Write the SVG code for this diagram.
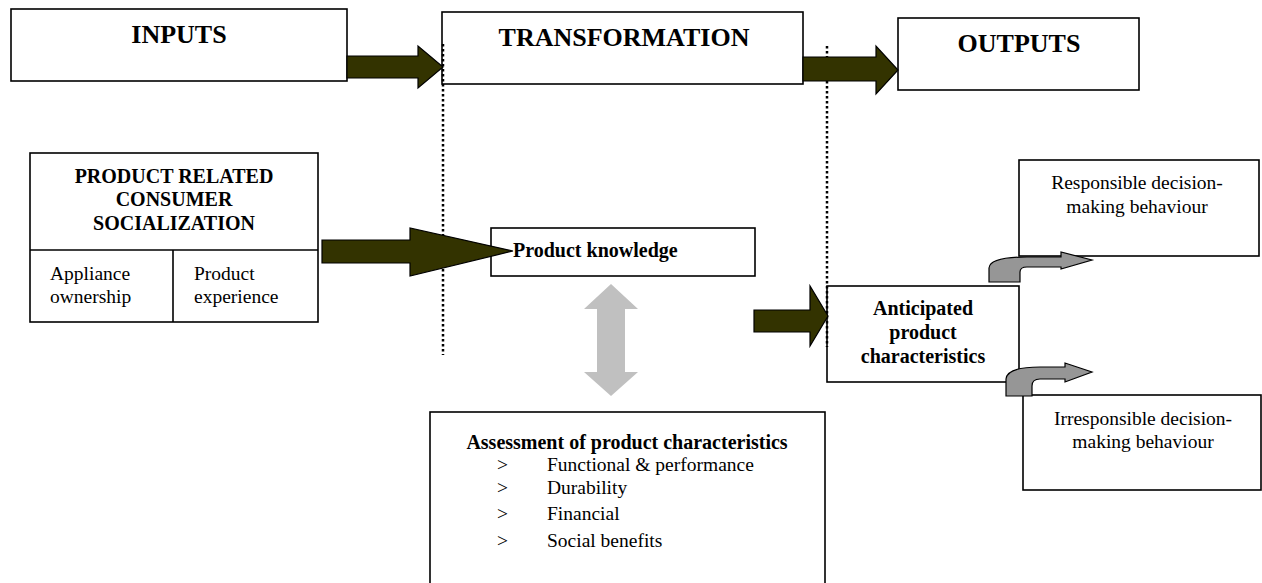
<svg xmlns="http://www.w3.org/2000/svg" width="1262" height="583" viewBox="0 0 1262 583">
<style>
.box{fill:#fff;stroke:#000;stroke-width:1.6}
.t{font-family:"Liberation Serif","DejaVu Serif",serif;fill:#000}
.h{font-size:26px;font-weight:bold;text-anchor:middle}
.b{font-size:20px;font-weight:bold}
.r{font-size:19.5px;font-weight:normal}
.c{text-anchor:middle}
.dark{fill:#333300;stroke:#000;stroke-width:1.2}
.grey{fill:#c0c0c0}
.curve{fill:#969696;stroke:#000;stroke-width:1.2}
.dot{fill:none;stroke:#000;stroke-width:2.5;stroke-dasharray:2.5 2.5}
</style>
<rect width="1262" height="583" fill="#fff"/>
<g id="inputs">
<rect class="box" x="11" y="9" width="336" height="72"/>
<text class="t h" x="179" y="43">INPUTS</text>
</g>
<g id="transformation">
<rect class="box" x="442" y="12" width="361" height="72"/>
<text class="t h" x="624" y="46">TRANSFORMATION</text>
</g>
<g id="outputs">
<rect class="box" x="898" y="18" width="241" height="72"/>
<text class="t h" x="1019" y="52">OUTPUTS</text>
</g>
<g id="socialization">
<rect class="box" x="30" y="153" width="288" height="169"/>
<line x1="30" y1="250" x2="318" y2="250" stroke="#000" stroke-width="1.6"/>
<line x1="173" y1="250" x2="173" y2="322" stroke="#000" stroke-width="1.6"/>
<text class="t b c" x="174" y="183">PRODUCT RELATED</text>
<text class="t b c" x="174" y="206">CONSUMER</text>
<text class="t b c" x="174" y="230">SOCIALIZATION</text>
<text class="t r" x="50" y="280">Appliance</text>
<text class="t r" x="50" y="303">ownership</text>
<text class="t r" x="194" y="280">Product</text>
<text class="t r" x="194" y="303">experience</text>
</g>
<g id="knowledge">
<rect class="box" x="491" y="228" width="264" height="48"/>
<text class="t b" x="513" y="257">Product knowledge</text>
</g>
<g id="assessment">
<rect class="box" x="430" y="412" width="395" height="190"/>
<text class="t b c" x="627" y="449">Assessment of product characteristics</text>
<text class="t r" x="497" y="471">&gt;</text>
<text class="t r" x="547" y="471">Functional &amp; performance</text>
<text class="t r" x="497" y="494">&gt;</text>
<text class="t r" x="547" y="494">Durability</text>
<text class="t r" x="497" y="520">&gt;</text>
<text class="t r" x="547" y="520">Financial</text>
<text class="t r" x="497" y="547">&gt;</text>
<text class="t r" x="547" y="547">Social benefits</text>
</g>
<g id="anticipated">
<rect class="box" x="827" y="286" width="192" height="96"/>
<text class="t b c" x="923" y="315">Anticipated</text>
<text class="t b c" x="923" y="339">product</text>
<text class="t b c" x="923" y="363">characteristics</text>
</g>
<g id="responsible">
<rect class="box" x="1019" y="160" width="240" height="96"/>
<text class="t r c" x="1137" y="189">Responsible decision-</text>
<text class="t r c" x="1137" y="213">making behaviour</text>
</g>
<g id="irresponsible">
<rect class="box" x="1023" y="395" width="238" height="95"/>
<text class="t r c" x="1143" y="425">Irresponsible decision-</text>
<text class="t r c" x="1143" y="448">making behaviour</text>
</g>
<g id="connectors">
<line class="dot" x1="443" y1="44" x2="443" y2="355"/>
<line class="dot" x1="827" y1="46" x2="827" y2="347"/>
<polygon class="dark" points="347,56 418,56 418,46 443,67 418,88 418,78 347,78"/>
<polygon class="dark" points="803,57 876,57 876,46 898,70 876,94 876,81 803,81"/>
<polygon class="dark" points="322,240 410,240 410,228 513,251 410,276 410,263 322,263"/>
<polygon class="dark" points="754,310 810,310 810,286 828,316 810,346 810,332 754,332"/>
<polygon class="grey" points="611,284 638,309 625,309 625,372 638,372 611,396 584,372 597,372 597,309 584,309"/>
<path class="curve" d="M989,282 L989,268 Q990,257 1027,257 L1061,257 L1061,252 L1092,260 L1061,269 L1061,267 L1027,267 Q1020,267 1020,272 L1020,282 Z"/>
<path class="curve" d="M1006,396 L1006,379 Q1007,367 1040,367 L1065,367 L1065,363 L1092,372 L1065,382 L1065,379 L1040,379 Q1032,379 1032,386 L1032,396 Z"/>
</g>
</svg>
